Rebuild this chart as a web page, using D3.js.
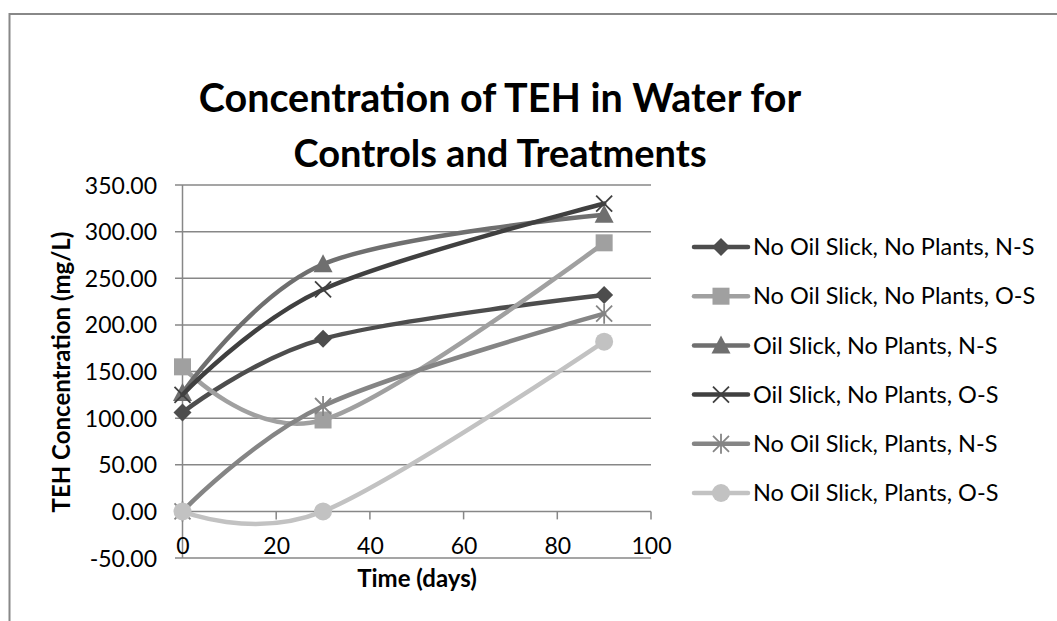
<!DOCTYPE html>
<html>
<head>
<meta charset="utf-8">
<script src="https://cdn.jsdelivr.net/npm/d3@7"></script>
<style>
  body { margin: 0; background: #fff; }
  svg text { font-family: Lato, "Open Sans", sans-serif; fill: #000; }
</style>
</head>
<body>
<svg id="chart" width="1057" height="621"></svg>
<script>
// data
const days = [0, 30, 90]
const seriesNames = [
  "No Oil Slick, No Plants, N-S",
  "No Oil Slick, No Plants, O-S",
  "Oil Slick, No Plants, N-S",
  "Oil Slick, No Plants, O-S",
  "No Oil Slick, Plants, N-S",
  "No Oil Slick, Plants, O-S"
]
const noOilNoPlantsNS = [106, 185, 232]
const noOilNoPlantsOS = [155, 98, 288]
const oilNoPlantsNS = [127, 265, 318]
const oilNoPlantsOS = [125, 238, 330]
const noOilPlantsNS = [0, 113, 212]
const noOilPlantsOS = [0, 0, 182]
const seriesValues = [noOilNoPlantsNS, noOilNoPlantsOS, oilNoPlantsNS, oilNoPlantsOS, noOilPlantsNS, noOilPlantsOS]
const yTicks = [-50, 0, 50, 100, 150, 200, 250, 300, 350]
const xTicks = [0, 20, 40, 60, 80, 100]

const colors = ["#4d4d4d", "#a0a0a0", "#6f6f6f", "#404040", "#858585", "#c2c2c2"]
const markers = ["diamond", "square", "triangle", "x", "star", "circle"]

const svg = d3.select("#chart")

// outer chart border (right/bottom are cropped off in the reference)
svg.append("rect")
  .attr("x", 9.5).attr("y", 14)
  .attr("width", 1100).attr("height", 700)
  .attr("fill", "none")
  .attr("stroke", "#888")
  .attr("stroke-width", 2)

const x = d3.scaleLinear().domain([0, 100]).range([182.5, 651])
const y = d3.scaleLinear().domain([-50, 350]).range([558, 185])

// title
svg.append("text")
  .attr("x", 500).attr("y", 112)
  .attr("text-anchor", "middle")
  .style("font-size", "39.5px").style("font-weight", "bold")
  .text("Concentration of TEH in Water for")
svg.append("text")
  .attr("x", 500).attr("y", 167)
  .attr("text-anchor", "middle")
  .style("font-size", "38px").style("font-weight", "bold")
  .text("Controls and Treatments")

// horizontal gridlines with the left tick stubs
const grid = svg.append("g")
grid.selectAll("line")
  .data(yTicks)
  .join("line")
  .attr("x1", 175).attr("x2", x(100))
  .attr("y1", d => y(d)).attr("y2", d => y(d))
  .attr("stroke", "#878787")
  .attr("stroke-width", 1.5)

// vertical axis line
svg.append("line")
  .attr("x1", x(0)).attr("x2", x(0))
  .attr("y1", y(350)).attr("y2", y(-50))
  .attr("stroke", "#878787").attr("stroke-width", 1.5)

// y tick labels
const fmt = d3.format(".2f")
const yAxis = d3.axisLeft(y).tickValues(yTicks)
  .tickFormat(d => fmt(d).replace("\u2212", "-"))
  .tickSize(0).tickPadding(0)
const gy = svg.append("g")
  .attr("transform", "translate(157,0)")
  .call(yAxis)
gy.select(".domain").remove()
gy.selectAll("text")
  .style("font-family", "Lato, sans-serif")
  .style("font-size", "23px")
  .attr("fill", "#000")
  .attr("dy", "0.35em")

// x axis sits on zero, labels at the bottom
const xAxisTicks = svg.append("g")
xAxisTicks.selectAll("line")
  .data(xTicks)
  .join("line")
  .attr("x1", d => x(d)).attr("x2", d => x(d))
  .attr("y1", y(0)).attr("y2", y(0) + 8)
  .attr("stroke", "#878787").attr("stroke-width", 1.5)

const xAxis = d3.axisBottom(x).tickValues(xTicks).tickSize(0).tickPadding(0)
const gx = svg.append("g")
  .attr("transform", "translate(0,545.5)")
  .call(xAxis)
gx.select(".domain").remove()
gx.selectAll("text")
  .style("font-family", "Lato, sans-serif")
  .style("font-size", "23px")
  .attr("fill", "#000")
  .attr("dy", "0.35em")

// axis titles
svg.append("text")
  .attr("x", 417).attr("y", 587)
  .attr("text-anchor", "middle")
  .style("font-size", "24px").style("font-weight", "bold")
  .text("Time (days)")
svg.append("text")
  .attr("transform", "translate(70,372) rotate(-90)")
  .attr("text-anchor", "middle")
  .style("font-size", "24px").style("font-weight", "bold")
  .text("TEH Concentration (mg/L)")

function drawMarker(g, type, cx, cy, color) {
  if (type === "diamond") {
    g.append("path").attr("d", `M${cx},${cy - 9}L${cx + 9},${cy}L${cx},${cy + 9}L${cx - 9},${cy}Z`).attr("fill", color)
  } else if (type === "square") {
    g.append("rect").attr("x", cx - 8.5).attr("y", cy - 8.5).attr("width", 17).attr("height", 17).attr("fill", color)
  } else if (type === "triangle") {
    g.append("path").attr("d", `M${cx},${cy - 10}L${cx + 9.5},${cy + 8}L${cx - 9.5},${cy + 8}Z`).attr("fill", color)
  } else if (type === "x") {
    g.append("path").attr("d", `M${cx - 8},${cy - 8}L${cx + 8},${cy + 8}M${cx - 8},${cy + 8}L${cx + 8},${cy - 8}`)
      .attr("stroke", color).attr("stroke-width", 1.8)
  } else if (type === "star") {
    g.append("path").attr("d", `M${cx - 8},${cy - 8}L${cx + 8},${cy + 8}M${cx - 8},${cy + 8}L${cx + 8},${cy - 8}M${cx},${cy - 10}L${cx},${cy + 10}`)
      .attr("stroke", color).attr("stroke-width", 1.8)
  } else {
    g.append("circle").attr("cx", cx).attr("cy", cy).attr("r", 9).attr("fill", color)
  }
}

const line = d3.line()
  .x(d => x(d[0]))
  .y(d => y(d[1]))
  .curve(d3.curveCardinal.tension(0))

const plot = svg.append("g")
seriesValues.forEach((vals, i) => {
  const pts = days.map((d, j) => [d, vals[j]])
  plot.append("path")
    .attr("d", line(pts))
    .attr("fill", "none")
    .attr("stroke", colors[i])
    .attr("stroke-width", 4.5)
    .attr("stroke-linecap", "round")
  const mg = plot.append("g")
  pts.forEach(p => drawMarker(mg, markers[i], x(p[0]), y(p[1]), colors[i]))
})

// legend
const legend = svg.append("g")
seriesNames.forEach((name, i) => {
  const ly = 247 + i * 49.2
  legend.append("line")
    .attr("x1", 694).attr("x2", 748)
    .attr("y1", ly).attr("y2", ly)
    .attr("stroke", colors[i]).attr("stroke-width", 4.5)
    .attr("stroke-linecap", "round")
  drawMarker(legend, markers[i], 721, ly, colors[i])
  legend.append("text")
    .attr("x", 753).attr("y", ly)
    .attr("dy", "0.35em")
    .style("font-size", "23.5px")
    .text(name)
})
</script>
</body>
</html>
